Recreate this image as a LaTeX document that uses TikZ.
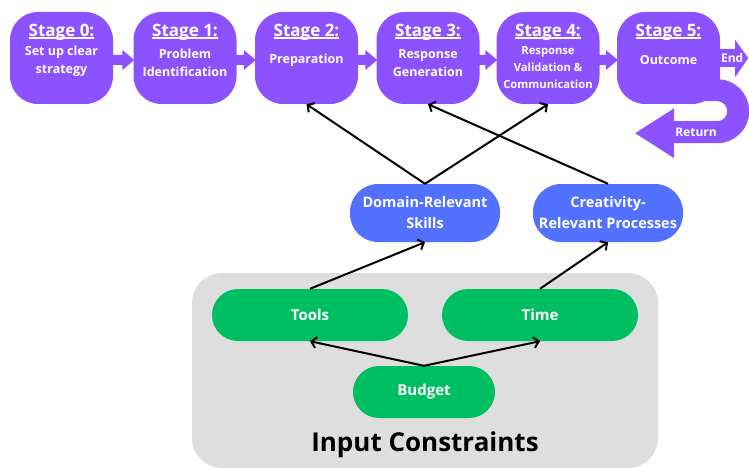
\documentclass[tikz,border=0pt]{standalone}
\usepackage{fontspec}
\setmainfont{Open Sans}
\usetikzlibrary{arrows.meta,calc}
\definecolor{stagecol}{HTML}{8C52FF}
\definecolor{skillcol}{HTML}{5271FF}
\definecolor{inputcol}{HTML}{00BF63}
\definecolor{panelcol}{HTML}{DEDEDE}
\newsavebox\ulbox
\newcommand\stul[1]{\sbox\ulbox{#1}\rlap{\rule[-1.8pt]{\wd\ulbox}{1.3pt}}\usebox\ulbox}
\begin{document}
\begin{tikzpicture}[x=1pt,y=-1pt,
 stagebox/.style={fill=stagecol, rounded corners=28pt, minimum width=103pt, minimum height=92pt, inner sep=0pt},
 stagetitle/.style={text=white, font=\bfseries\fontsize{17}{20}\selectfont, anchor=base, inner sep=0pt},
 stagesub/.style={text=white, font=\bfseries\fontsize{12.5}{18}\selectfont, align=center, inner sep=0pt},
 skillbox/.style={fill=skillcol, rounded corners=28pt, minimum width=150pt, minimum height=58pt, inner sep=0pt, text=white, font=\bfseries\fontsize{14.5}{21}\selectfont, align=center},
 inputbox/.style={fill=inputcol, rounded corners=26pt, minimum height=52pt, inner sep=0pt, text=white, font=\bfseries\fontsize{15}{18}\selectfont},
 link/.style={draw=black, line width=2pt, -{Straight Barb[length=5pt,width=11pt]}},
 arrowlbl/.style={text=white, font=\bfseries\fontsize{12}{14}\selectfont, inner sep=0pt},
]
\useasboundingbox (0,0) rectangle (749,468);
\fill[white] (0,0) rectangle (749,468);
% panel
\node[fill=panelcol, rounded corners=30pt, minimum width=466pt, minimum height=195pt, inner sep=0pt] (panel) at (425,370.5) {};
% stages
\node[stagebox] (s0) at (61.5,58) {};
\node[stagebox] (s1) at (185,58) {};
\node[stagebox] (s2) at (306.5,58) {};
\node[stagebox] (s3) at (428,58) {};
\node[stagebox] (s4) at (548,58) {};
\node[stagebox] (s5) at (668.5,58) {};
\foreach \a/\b in {s0/s1,s1/s2,s2/s3,s3/s4,s4/s5}{
  \fill[stagecol] ($(\a.east)+(-2,-3)$) -- ($(\b.west)+(-11,-3)$) -- ($(\b.west)+(-11,-8)$)
    -- ($(\b.west)+(1,2)$) -- ($(\b.west)+(-11,12)$) -- ($(\b.west)+(-11,7)$) -- ($(\a.east)+(-2,7)$) -- cycle;
}
% end arrow
\fill[stagecol] ($(s5.east)+(-4,-9)$) -- ($(s5.east)+(15,-9)$) -- ($(s5.east)+(15,-18)$) -- ($(s5.east)+(28,0)$)
  -- ($(s5.east)+(15,19)$) -- ($(s5.east)+(15,9)$) -- ($(s5.east)+(-4,9)$) -- cycle;
% return arrow
\draw[stagecol, line width=22pt] ($(s5.south east)+(-15,-14)$) -- ++(12,0) arc[start angle=90, end angle=-90, radius=21pt] -- ++(-43,0);
\fill[stagecol] ($(s5.south east)+(-46,4)$) -- ++(-39,25) -- ++(39,25) -- cycle;
\node[arrowlbl] (endlbl) at ($(s5.east)+(12,0)$) {End};
\node[arrowlbl] (retlbl) at (696,132) {Return};
% stage texts
\foreach \s/\t in {s0/0,s1/1,s2/2,s3/3,s4/4,s5/5}{
  \node[stagetitle] (\s t) at ($(\s.north)+(0,25)$) {\stul{Stage \t:}};
}
\node[stagesub] (s0s) at ($(s0.center)+(0,3)$) {Set up clear\\strategy};
\node[stagesub] (s1s) at ($(s1.center)+(0,5)$) {Problem\\Identification};
\node[stagesub] (s2s) at ($(s2.center)+(0,2)$) {Preparation};
\node[stagesub] (s3s) at ($(s3.center)+(0,5.5)$) {Response\\Generation};
\node[stagesub, font=\bfseries\fontsize{11.2}{17}\selectfont] (s4s) at ($(s4.center)+(0,10)$) {Response\\Validation \&\\Communication};
\node[stagesub] (s5s) at ($(s5.center)+(0,2)$) {Outcome};
% skills
\node[skillbox] (drs) at (425,213) {Domain-Relevant\\Skills};
\node[skillbox] (crp) at (608,213) {Creativity-\\Relevant Processes};
% inputs
\node[inputbox, minimum width=196pt] (tools) at (310,315) {Tools};
\node[inputbox, minimum width=196pt] (time) at (540,315) {Time};
\node[inputbox, minimum width=142pt] (budget) at (424,392) {Budget};
\node[font=\bfseries\fontsize{26}{30}\selectfont, inner sep=0pt] (ic) at (425,445) {Input Constraints};
% links
\draw[link] (drs.north) -- (s2.south);
\draw[link] (drs.north) -- (s4.south);
\draw[link] (crp.north) -- (s3.south);
\draw[link] (tools.north) -- (drs.south);
\draw[link] (time.north) -- (crp.south);
\draw[link] (budget.north) -- (tools.south);
\draw[link] (budget.north) -- (time.south);
\end{tikzpicture}
\end{document}
